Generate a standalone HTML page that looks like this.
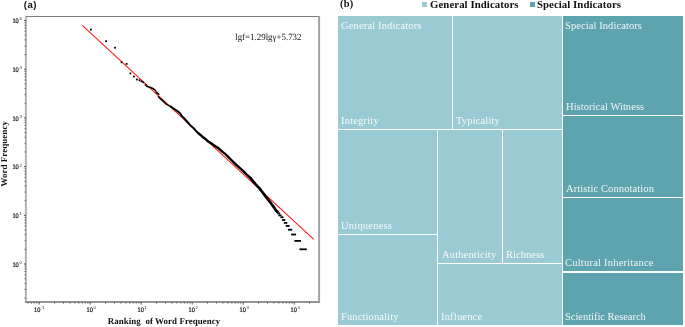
<!DOCTYPE html>
<html><head><meta charset="utf-8"><style>
html,body{margin:0;padding:0;background:#fff;}
body{width:685px;height:327px;position:relative;overflow:hidden;}
svg{position:absolute;left:0;top:0;will-change:transform;text-rendering:geometricPrecision;}
.tl{font-family:"Liberation Sans",sans-serif;font-size:6.6px;fill:#111;stroke:#111;stroke-width:0.22px;}
.ts{font-family:"Liberation Sans",sans-serif;font-size:4.3px;fill:#333;}
.fm{font-family:"Liberation Serif",serif;font-size:9.4px;fill:#111;}
.al{font-family:"Liberation Serif",serif;font-size:8.9px;font-weight:bold;fill:#111;}
.pa{font-family:"Liberation Sans",sans-serif;font-size:9.6px;font-weight:bold;fill:#111;}
.c{position:absolute;}
.lb{position:absolute;font-family:"Liberation Serif",serif;font-size:10.5px;line-height:12px;color:rgba(255,255,255,0.9);white-space:nowrap;will-change:transform;}
.lg{position:absolute;font-family:"Liberation Serif",serif;font-size:10.8px;font-weight:bold;line-height:12px;color:#111;white-space:nowrap;will-change:transform;}
.pb{position:absolute;font-family:"Liberation Serif",serif;font-size:10.4px;font-weight:bold;line-height:12px;color:#111;white-space:nowrap;will-change:transform;}
</style></head><body>
<svg width="685" height="327" viewBox="0 0 685 327">
<rect x="26" y="16.5" width="293.2" height="285.5" fill="none" stroke="none"/>
<line x1="25.6" y1="16.5" x2="320" y2="16.5" stroke="#7a7a7a" stroke-width="1.1"/>
<line x1="25.9" y1="16.9" x2="25.9" y2="303" stroke="#b3b3b3" stroke-width="2"/>
<line x1="319.1" y1="16" x2="319.1" y2="303" stroke="#a3a3a3" stroke-width="2"/>
<line x1="25" y1="302" x2="320" y2="302" stroke="#959595" stroke-width="1.8"/>
<line x1="24.0" y1="264.00" x2="26" y2="264.00" stroke="#444" stroke-width="0.9"/>
<line x1="24.6" y1="249.34" x2="26" y2="249.34" stroke="#555" stroke-width="0.9"/>
<line x1="24.6" y1="240.76" x2="26" y2="240.76" stroke="#555" stroke-width="0.9"/>
<line x1="24.6" y1="234.68" x2="26" y2="234.68" stroke="#555" stroke-width="0.9"/>
<line x1="24.6" y1="229.96" x2="26" y2="229.96" stroke="#555" stroke-width="0.9"/>
<line x1="24.6" y1="226.10" x2="26" y2="226.10" stroke="#555" stroke-width="0.9"/>
<line x1="24.6" y1="222.84" x2="26" y2="222.84" stroke="#555" stroke-width="0.9"/>
<line x1="24.6" y1="220.02" x2="26" y2="220.02" stroke="#555" stroke-width="0.9"/>
<line x1="24.6" y1="217.53" x2="26" y2="217.53" stroke="#555" stroke-width="0.9"/>
<line x1="24.0" y1="215.30" x2="26" y2="215.30" stroke="#444" stroke-width="0.9"/>
<line x1="24.6" y1="200.64" x2="26" y2="200.64" stroke="#555" stroke-width="0.9"/>
<line x1="24.6" y1="192.06" x2="26" y2="192.06" stroke="#555" stroke-width="0.9"/>
<line x1="24.6" y1="185.98" x2="26" y2="185.98" stroke="#555" stroke-width="0.9"/>
<line x1="24.6" y1="181.26" x2="26" y2="181.26" stroke="#555" stroke-width="0.9"/>
<line x1="24.6" y1="177.40" x2="26" y2="177.40" stroke="#555" stroke-width="0.9"/>
<line x1="24.6" y1="174.14" x2="26" y2="174.14" stroke="#555" stroke-width="0.9"/>
<line x1="24.6" y1="171.32" x2="26" y2="171.32" stroke="#555" stroke-width="0.9"/>
<line x1="24.6" y1="168.83" x2="26" y2="168.83" stroke="#555" stroke-width="0.9"/>
<line x1="24.0" y1="166.60" x2="26" y2="166.60" stroke="#444" stroke-width="0.9"/>
<line x1="24.6" y1="151.94" x2="26" y2="151.94" stroke="#555" stroke-width="0.9"/>
<line x1="24.6" y1="143.36" x2="26" y2="143.36" stroke="#555" stroke-width="0.9"/>
<line x1="24.6" y1="137.28" x2="26" y2="137.28" stroke="#555" stroke-width="0.9"/>
<line x1="24.6" y1="132.56" x2="26" y2="132.56" stroke="#555" stroke-width="0.9"/>
<line x1="24.6" y1="128.70" x2="26" y2="128.70" stroke="#555" stroke-width="0.9"/>
<line x1="24.6" y1="125.44" x2="26" y2="125.44" stroke="#555" stroke-width="0.9"/>
<line x1="24.6" y1="122.62" x2="26" y2="122.62" stroke="#555" stroke-width="0.9"/>
<line x1="24.6" y1="120.13" x2="26" y2="120.13" stroke="#555" stroke-width="0.9"/>
<line x1="24.0" y1="117.90" x2="26" y2="117.90" stroke="#444" stroke-width="0.9"/>
<line x1="24.6" y1="103.24" x2="26" y2="103.24" stroke="#555" stroke-width="0.9"/>
<line x1="24.6" y1="94.66" x2="26" y2="94.66" stroke="#555" stroke-width="0.9"/>
<line x1="24.6" y1="88.58" x2="26" y2="88.58" stroke="#555" stroke-width="0.9"/>
<line x1="24.6" y1="83.86" x2="26" y2="83.86" stroke="#555" stroke-width="0.9"/>
<line x1="24.6" y1="80.00" x2="26" y2="80.00" stroke="#555" stroke-width="0.9"/>
<line x1="24.6" y1="76.74" x2="26" y2="76.74" stroke="#555" stroke-width="0.9"/>
<line x1="24.6" y1="73.92" x2="26" y2="73.92" stroke="#555" stroke-width="0.9"/>
<line x1="24.6" y1="71.43" x2="26" y2="71.43" stroke="#555" stroke-width="0.9"/>
<line x1="24.0" y1="69.20" x2="26" y2="69.20" stroke="#444" stroke-width="0.9"/>
<line x1="24.6" y1="54.54" x2="26" y2="54.54" stroke="#555" stroke-width="0.9"/>
<line x1="24.6" y1="45.96" x2="26" y2="45.96" stroke="#555" stroke-width="0.9"/>
<line x1="24.6" y1="39.88" x2="26" y2="39.88" stroke="#555" stroke-width="0.9"/>
<line x1="24.6" y1="35.16" x2="26" y2="35.16" stroke="#555" stroke-width="0.9"/>
<line x1="24.6" y1="31.30" x2="26" y2="31.30" stroke="#555" stroke-width="0.9"/>
<line x1="24.6" y1="28.04" x2="26" y2="28.04" stroke="#555" stroke-width="0.9"/>
<line x1="24.6" y1="25.22" x2="26" y2="25.22" stroke="#555" stroke-width="0.9"/>
<line x1="24.6" y1="22.73" x2="26" y2="22.73" stroke="#555" stroke-width="0.9"/>
<line x1="24.0" y1="20.50" x2="26" y2="20.50" stroke="#444" stroke-width="0.9"/>
<line x1="24.6" y1="266.23" x2="26" y2="266.23" stroke="#555" stroke-width="0.9"/>
<line x1="24.6" y1="268.72" x2="26" y2="268.72" stroke="#555" stroke-width="0.9"/>
<line x1="24.6" y1="271.54" x2="26" y2="271.54" stroke="#555" stroke-width="0.9"/>
<line x1="24.6" y1="274.80" x2="26" y2="274.80" stroke="#555" stroke-width="0.9"/>
<line x1="24.6" y1="278.66" x2="26" y2="278.66" stroke="#555" stroke-width="0.9"/>
<line x1="24.6" y1="283.38" x2="26" y2="283.38" stroke="#555" stroke-width="0.9"/>
<line x1="24.6" y1="289.46" x2="26" y2="289.46" stroke="#555" stroke-width="0.9"/>
<line x1="24.6" y1="298.04" x2="26" y2="298.04" stroke="#555" stroke-width="0.9"/>
<line x1="39.20" y1="302" x2="39.20" y2="304.6" stroke="#444" stroke-width="0.9"/>
<line x1="54.55" y1="302" x2="54.55" y2="303.6" stroke="#555" stroke-width="0.9"/>
<line x1="63.53" y1="302" x2="63.53" y2="303.6" stroke="#555" stroke-width="0.9"/>
<line x1="69.91" y1="302" x2="69.91" y2="303.6" stroke="#555" stroke-width="0.9"/>
<line x1="74.85" y1="302" x2="74.85" y2="303.6" stroke="#555" stroke-width="0.9"/>
<line x1="78.89" y1="302" x2="78.89" y2="303.6" stroke="#555" stroke-width="0.9"/>
<line x1="82.30" y1="302" x2="82.30" y2="303.6" stroke="#555" stroke-width="0.9"/>
<line x1="85.26" y1="302" x2="85.26" y2="303.6" stroke="#555" stroke-width="0.9"/>
<line x1="87.87" y1="302" x2="87.87" y2="303.6" stroke="#555" stroke-width="0.9"/>
<line x1="90.20" y1="302" x2="90.20" y2="304.6" stroke="#444" stroke-width="0.9"/>
<line x1="105.55" y1="302" x2="105.55" y2="303.6" stroke="#555" stroke-width="0.9"/>
<line x1="114.53" y1="302" x2="114.53" y2="303.6" stroke="#555" stroke-width="0.9"/>
<line x1="120.91" y1="302" x2="120.91" y2="303.6" stroke="#555" stroke-width="0.9"/>
<line x1="125.85" y1="302" x2="125.85" y2="303.6" stroke="#555" stroke-width="0.9"/>
<line x1="129.89" y1="302" x2="129.89" y2="303.6" stroke="#555" stroke-width="0.9"/>
<line x1="133.30" y1="302" x2="133.30" y2="303.6" stroke="#555" stroke-width="0.9"/>
<line x1="136.26" y1="302" x2="136.26" y2="303.6" stroke="#555" stroke-width="0.9"/>
<line x1="138.87" y1="302" x2="138.87" y2="303.6" stroke="#555" stroke-width="0.9"/>
<line x1="141.20" y1="302" x2="141.20" y2="304.6" stroke="#444" stroke-width="0.9"/>
<line x1="156.55" y1="302" x2="156.55" y2="303.6" stroke="#555" stroke-width="0.9"/>
<line x1="165.53" y1="302" x2="165.53" y2="303.6" stroke="#555" stroke-width="0.9"/>
<line x1="171.91" y1="302" x2="171.91" y2="303.6" stroke="#555" stroke-width="0.9"/>
<line x1="176.85" y1="302" x2="176.85" y2="303.6" stroke="#555" stroke-width="0.9"/>
<line x1="180.89" y1="302" x2="180.89" y2="303.6" stroke="#555" stroke-width="0.9"/>
<line x1="184.30" y1="302" x2="184.30" y2="303.6" stroke="#555" stroke-width="0.9"/>
<line x1="187.26" y1="302" x2="187.26" y2="303.6" stroke="#555" stroke-width="0.9"/>
<line x1="189.87" y1="302" x2="189.87" y2="303.6" stroke="#555" stroke-width="0.9"/>
<line x1="192.20" y1="302" x2="192.20" y2="304.6" stroke="#444" stroke-width="0.9"/>
<line x1="207.55" y1="302" x2="207.55" y2="303.6" stroke="#555" stroke-width="0.9"/>
<line x1="216.53" y1="302" x2="216.53" y2="303.6" stroke="#555" stroke-width="0.9"/>
<line x1="222.91" y1="302" x2="222.91" y2="303.6" stroke="#555" stroke-width="0.9"/>
<line x1="227.85" y1="302" x2="227.85" y2="303.6" stroke="#555" stroke-width="0.9"/>
<line x1="231.89" y1="302" x2="231.89" y2="303.6" stroke="#555" stroke-width="0.9"/>
<line x1="235.30" y1="302" x2="235.30" y2="303.6" stroke="#555" stroke-width="0.9"/>
<line x1="238.26" y1="302" x2="238.26" y2="303.6" stroke="#555" stroke-width="0.9"/>
<line x1="240.87" y1="302" x2="240.87" y2="303.6" stroke="#555" stroke-width="0.9"/>
<line x1="243.20" y1="302" x2="243.20" y2="304.6" stroke="#444" stroke-width="0.9"/>
<line x1="258.55" y1="302" x2="258.55" y2="303.6" stroke="#555" stroke-width="0.9"/>
<line x1="267.53" y1="302" x2="267.53" y2="303.6" stroke="#555" stroke-width="0.9"/>
<line x1="273.91" y1="302" x2="273.91" y2="303.6" stroke="#555" stroke-width="0.9"/>
<line x1="278.85" y1="302" x2="278.85" y2="303.6" stroke="#555" stroke-width="0.9"/>
<line x1="282.89" y1="302" x2="282.89" y2="303.6" stroke="#555" stroke-width="0.9"/>
<line x1="286.30" y1="302" x2="286.30" y2="303.6" stroke="#555" stroke-width="0.9"/>
<line x1="289.26" y1="302" x2="289.26" y2="303.6" stroke="#555" stroke-width="0.9"/>
<line x1="291.87" y1="302" x2="291.87" y2="303.6" stroke="#555" stroke-width="0.9"/>
<line x1="294.20" y1="302" x2="294.20" y2="304.6" stroke="#444" stroke-width="0.9"/>
<line x1="309.55" y1="302" x2="309.55" y2="303.6" stroke="#555" stroke-width="0.9"/>
<line x1="27.89" y1="302" x2="27.89" y2="303.6" stroke="#555" stroke-width="0.9"/>
<line x1="31.30" y1="302" x2="31.30" y2="303.6" stroke="#555" stroke-width="0.9"/>
<line x1="34.26" y1="302" x2="34.26" y2="303.6" stroke="#555" stroke-width="0.9"/>
<line x1="36.87" y1="302" x2="36.87" y2="303.6" stroke="#555" stroke-width="0.9"/>
<text x="12.4" y="266.70" class="tl" textLength="6.3" lengthAdjust="spacingAndGlyphs">10</text><text x="19.6" y="263.90" class="ts">0</text>
<text x="12.4" y="218.00" class="tl" textLength="6.3" lengthAdjust="spacingAndGlyphs">10</text><text x="19.6" y="215.20" class="ts">1</text>
<text x="12.4" y="169.30" class="tl" textLength="6.3" lengthAdjust="spacingAndGlyphs">10</text><text x="19.6" y="166.50" class="ts">2</text>
<text x="12.4" y="120.60" class="tl" textLength="6.3" lengthAdjust="spacingAndGlyphs">10</text><text x="19.6" y="117.80" class="ts">3</text>
<text x="12.4" y="71.90" class="tl" textLength="6.3" lengthAdjust="spacingAndGlyphs">10</text><text x="19.6" y="69.10" class="ts">4</text>
<text x="12.4" y="23.20" class="tl" textLength="6.3" lengthAdjust="spacingAndGlyphs">10</text><text x="19.6" y="20.40" class="ts">5</text>
<text x="34.10" y="311.8" class="tl" textLength="6.3" lengthAdjust="spacingAndGlyphs">10</text><text x="40.70" y="309.2" class="ts">-1</text>
<text x="86.60" y="311.8" class="tl" textLength="6.3" lengthAdjust="spacingAndGlyphs">10</text><text x="93.50" y="309.2" class="ts">0</text>
<text x="137.60" y="311.8" class="tl" textLength="6.3" lengthAdjust="spacingAndGlyphs">10</text><text x="144.50" y="309.2" class="ts">1</text>
<text x="188.60" y="311.8" class="tl" textLength="6.3" lengthAdjust="spacingAndGlyphs">10</text><text x="195.50" y="309.2" class="ts">2</text>
<text x="239.60" y="311.8" class="tl" textLength="6.3" lengthAdjust="spacingAndGlyphs">10</text><text x="246.50" y="309.2" class="ts">3</text>
<text x="290.60" y="311.8" class="tl" textLength="6.3" lengthAdjust="spacingAndGlyphs">10</text><text x="297.50" y="309.2" class="ts">4</text>
<line x1="82.3" y1="25.4" x2="313.8" y2="239.4" stroke="#ff1a1a" stroke-width="1.1"/>
<rect x="89.90" y="28.70" width="1.8" height="1.8" fill="#000"/>
<rect x="105.20" y="40.30" width="1.8" height="1.8" fill="#000"/>
<rect x="114.20" y="46.80" width="1.8" height="1.8" fill="#000"/>
<rect x="120.70" y="61.40" width="1.8" height="1.8" fill="#000"/>
<rect x="125.70" y="63.00" width="1.8" height="1.8" fill="#000"/>
<rect x="129.50" y="72.50" width="1.8" height="1.8" fill="#000"/>
<rect x="133.00" y="75.60" width="1.8" height="1.8" fill="#000"/>
<rect x="136.00" y="78.60" width="1.8" height="1.8" fill="#000"/>
<rect x="138.60" y="79.40" width="1.8" height="1.8" fill="#000"/>
<rect x="140.60" y="80.50" width="1.8" height="1.8" fill="#000"/>
<rect x="142.40" y="81.40" width="1.8" height="1.8" fill="#000"/>
<rect x="144.70" y="84.00" width="1.8" height="1.8" fill="#000"/>
<polyline points="146.6,86.3 150.5,87.6 153.5,88.8 155.6,90.5" fill="none" stroke="#000" stroke-width="1.6" stroke-linejoin="round" stroke-linecap="round"/>
<polyline points="155.9,92.0 158.7,94.2" fill="none" stroke="#000" stroke-width="1.6" stroke-linejoin="round" stroke-linecap="round"/>
<polyline points="158.4,96.8 160.3,98.7 162.6,100.6 166.6,104.4 169.4,105.9 170.8,106.6" fill="none" stroke="#000" stroke-width="1.6" stroke-linejoin="round" stroke-linecap="round"/>
<polyline points="170.8,106.6 173.7,108.7 177.3,111.0 180.1,113.3 181.5,115.6 184.7,118.8 187.4,122.0 190.2,125.2 193.4,127.9 195.7,130.7 198.6,133.4" fill="none" stroke="#000" stroke-width="2.0" stroke-linejoin="round" stroke-linecap="round"/>
<polyline points="198.6,133.4 202.4,136.7 206.1,139.5 207.9,141.3 211.6,143.6 215.3,146.3 218.9,148.6 222.6,151.9 225.4,154.1 228.7,157.3 232.3,161.0 236.0,164.7 239.7,167.9 243.3,171.1 247.0,174.8 250.7,178.2" fill="none" stroke="#000" stroke-width="2.4" stroke-linejoin="round" stroke-linecap="round"/>
<polyline points="250.7,178.2 252.5,180.6 255.7,184.4 259.3,188.1 262.1,191.8 264.8,195.4 268.1,199.6 271.3,203.7 274.0,207.4 275.5,209.8 277.0,211.6" fill="none" stroke="#000" stroke-width="2.7" stroke-linejoin="round" stroke-linecap="round"/>
<rect x="278.40" y="214.50" width="3.20" height="1.8" fill="#000"/>
<rect x="277.30" y="212.50" width="2.90" height="1.8" fill="#000"/>
<rect x="276.40" y="210.70" width="2.40" height="1.8" fill="#000"/>
<rect x="299.50" y="248.40" width="7.30" height="1.8" fill="#000"/>
<rect x="294.40" y="240.00" width="6.60" height="1.8" fill="#000"/>
<rect x="291.10" y="233.60" width="5.00" height="1.8" fill="#000"/>
<rect x="288.00" y="228.80" width="4.20" height="1.8" fill="#000"/>
<rect x="285.70" y="225.00" width="3.90" height="1.8" fill="#000"/>
<rect x="283.90" y="222.00" width="3.40" height="1.8" fill="#000"/>
<rect x="281.90" y="219.10" width="3.40" height="1.8" fill="#000"/>
<rect x="280.40" y="216.30" width="3.10" height="1.8" fill="#000"/>
<text x="235.2" y="39.7" class="fm" textLength="66.3" lengthAdjust="spacingAndGlyphs">lgf=1.29lgγ+5.732</text>
<text x="107.7" y="323.6" class="al" letter-spacing="0.08" xml:space="preserve">Ranking  of Word Frequency</text>
<text transform="translate(6.7,186.6) rotate(-90)" class="al" letter-spacing="0.1">Word Frequency</text>
<text x="23.8" y="7.6" class="pa" letter-spacing="0.45">(a)</text>
</svg>
<div class="c" style="left:337.9px;top:15.9px;width:113.95px;height:113.00px;background:#9acad4"></div>
<div class="c" style="left:453.05px;top:15.9px;width:108.80px;height:113.00px;background:#9acad4"></div>
<div class="c" style="left:337.9px;top:130.0px;width:99.00px;height:104.05px;background:#9acad4"></div>
<div class="c" style="left:337.9px;top:235.15px;width:99.00px;height:89.45px;background:#9acad4"></div>
<div class="c" style="left:438.1px;top:130.0px;width:63.80px;height:132.90px;background:#9acad4"></div>
<div class="c" style="left:503.1px;top:130.0px;width:58.75px;height:132.90px;background:#9acad4"></div>
<div class="c" style="left:438.1px;top:264.0px;width:123.75px;height:60.60px;background:#9acad4"></div>
<div class="c" style="left:563.05px;top:15.9px;width:119.65px;height:99.00px;background:#5ea4ae"></div>
<div class="c" style="left:563.05px;top:116.0px;width:119.65px;height:80.70px;background:#5ea4ae"></div>
<div class="c" style="left:563.05px;top:197.8px;width:119.65px;height:73.60px;background:#5ea4ae"></div>
<div class="c" style="left:563.05px;top:272.5px;width:119.65px;height:52.10px;background:#5ea4ae"></div>
<div class="lb" style="left:340.50px;top:20.00px;letter-spacing:0.15px">General Indicators</div>
<div class="lb" style="left:340.70px;top:114.80px;letter-spacing:0.19px">Integrity</div>
<div class="lb" style="left:456.30px;top:114.50px;letter-spacing:0.15px">Typicality</div>
<div class="lb" style="left:340.60px;top:219.60px;letter-spacing:0.21px">Uniqueness</div>
<div class="lb" style="left:340.90px;top:310.50px;letter-spacing:0.12px">Functionality</div>
<div class="lb" style="left:441.60px;top:248.50px;letter-spacing:0.15px">Authenticity</div>
<div class="lb" style="left:505.90px;top:248.50px;letter-spacing:0.04px">Richness</div>
<div class="lb" style="left:441.00px;top:311.20px;letter-spacing:0.18px">Influence</div>
<div class="lb" style="left:565.00px;top:20.20px;letter-spacing:0.08px">Special Indicators</div>
<div class="lb" style="left:565.60px;top:100.60px;letter-spacing:0.05px">Historical Witness</div>
<div class="lb" style="left:565.60px;top:182.70px;letter-spacing:0.1px">Artistic Connotation</div>
<div class="lb" style="left:565.20px;top:257.00px;letter-spacing:0.22px">Cultural Inheritance</div>
<div class="lb" style="left:565.00px;top:310.60px;letter-spacing:-0.03px">Scientific Research</div>
<div class="c" style="left:422.3px;top:1.8px;width:4.8px;height:4.8px;background:#9acad4"></div>
<div class="lg" style="left:430.3px;top:-2.3px;letter-spacing:0.07px">General Indicators</div>
<div class="c" style="left:529.8px;top:1.8px;width:5px;height:4.8px;background:#5ea4ae"></div>
<div class="lg" style="left:537.3px;top:-2.3px;letter-spacing:0.05px">Special Indicators</div>
<div class="pb" style="left:340.3px;top:-1.7px;letter-spacing:0.3px">(b)</div>
</body></html>
